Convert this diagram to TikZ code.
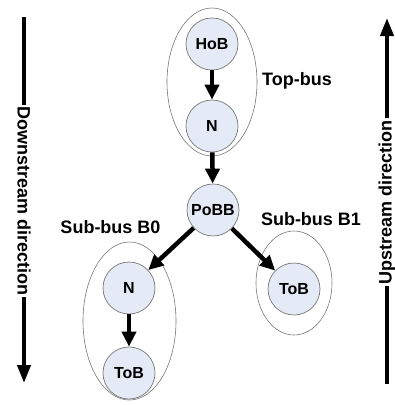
\documentclass[tikz,border=0pt]{standalone}
\usepackage{fontspec}
\setmainfont{Liberation Sans}
\usetikzlibrary{arrows.meta,shapes.geometric}
\definecolor{nodefill}{RGB}{228,234,246}
\definecolor{rimgray}{RGB}{120,120,120}
\begin{document}
\begin{tikzpicture}[x=1pt,y=-1pt,
  busnode/.style={circle, draw=rimgray, line width=0.7pt, fill=nodefill, minimum size=52pt, inner sep=0pt, font=\fontsize{16}{18}\selectfont\bfseries},
  group/.style={ellipse, draw=rimgray, line width=0.6pt, inner sep=0pt},
  grouplabel/.style={font=\fontsize{18}{20}\selectfont\bfseries, anchor=base, inner sep=0pt},
  flow/.style={line width=4.5pt, -{Triangle[length=15pt,width=14pt]}},
  dirtext/.style={font=\fontsize{18}{20}\selectfont\bfseries, inner sep=1.5pt},
  dirline/.style={line width=4pt},
  dirarrow/.style={line width=4pt, -{Triangle[length=18pt,width=13pt]}}
]
\useasboundingbox (0,0) rectangle (395,405);
% groups
\node[group, minimum width=90pt, minimum height=148pt] (topbus) at (212,82) {};
\node[group, minimum width=93pt, minimum height=158pt] (busb0) at (129.5,321) {};
\node[group, minimum width=76pt, minimum height=104pt] (busb1) at (294,283) {};
% nodes
\node[busnode] (hob) at (212,44) {HoB};
\node[busnode] (n1) at (212,126) {N};
\node[busnode] (pobb) at (213,210) {PoBB};
\node[busnode] (n2) at (129,288) {N};
\node[busnode] (tob0) at (129,373) {ToB};
\node[busnode] (tob1) at (294,289) {ToB};
% group labels
\node[grouplabel] (lbltop) at (297,85) {Top-bus};
\node[grouplabel] (lblb0) at (110.5,233) {Sub-bus B0};
\node[grouplabel] (lblb1) at (311,225) {Sub-bus B1};
% flow arrows
\draw[flow] (hob) -- (n1);
\draw[flow] (n1) -- (pobb);
\draw[flow] (pobb) -- (n2);
\draw[flow] (pobb) -- (tob1);
\draw[flow] (n2) -- (tob0);
% direction arrows
\coordinate (dtop) at (24,17);
\coordinate (dbot) at (24,383);
\node[dirtext, rotate=-90] (dtext) at (24,201) {Downstream direction};
\draw[dirline] (dtop) -- (dtext.west);
\draw[dirarrow] (dtext.east) -- (dbot);
\coordinate (ubot) at (387,384);
\coordinate (utop) at (387,18);
\node[dirtext, rotate=90] (utext) at (387,202) {Upstream direction};
\draw[dirline] (ubot) -- (utext.west);
\draw[dirarrow] (utext.east) -- (utop);
\end{tikzpicture}
\end{document}
